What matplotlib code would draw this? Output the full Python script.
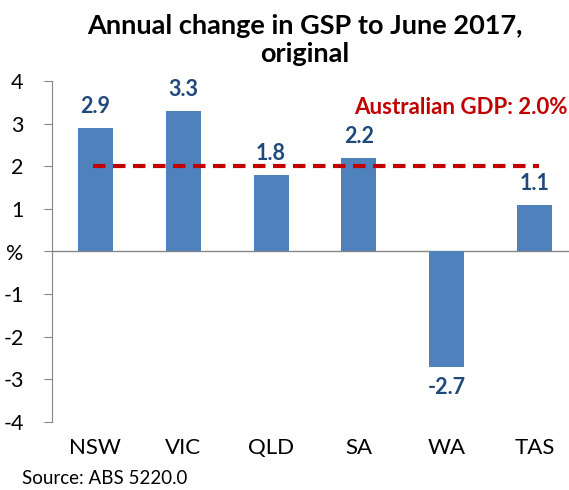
import matplotlib.pyplot as plt

plt.rcParams['font.family'] = ['Lato', 'DejaVu Sans']

states = ['NSW', 'VIC', 'QLD', 'SA', 'WA', 'TAS']
gsp_change = [2.9, 3.3, 1.8, 2.2, -2.7, 1.1]
gdp_change = 2.0
y_ticks = [-4, -3, -2, -1, 0, 1, 2, 3, 4]
y_labels = ['-4', '-3', '-2', '-1', '%', '1', '2', '3', '4']

fig = plt.figure(figsize=(5.69, 4.90), dpi=100)
ax = fig.add_axes([51.5 / 569, 68 / 490, 527 / 569, 341 / 490])

x = range(len(states))
ax.bar(x, gsp_change, width=0.4, color='#4F81BD', zorder=2)

# data labels
for i, v in zip(x, gsp_change):
    off = 0.25 if v > 0 else -0.25
    ax.text(i, v + off, f'{v:.1f}', ha='center', va='bottom' if v > 0 else 'top',
            fontsize=15.5, fontweight='bold', color='#1F497D')

# GDP reference line
ax.plot([-0.03, len(states) - 1 + 0.05], [gdp_change, gdp_change], color='#C00000',
        lw=3, ls=(0, (3, 1.8)), zorder=3)
fig.text(568 / 569, 1 - 108 / 490, f'Australian GDP: {gdp_change:.1f}%',
         ha='right', va='center', fontsize=16, fontweight='bold', color='#C00000')

ax.set_xlim(-0.5, 5.5)
ax.set_ylim(-4, 4)
ax.set_yticks(y_ticks)
ax.set_yticklabels(y_labels, fontsize=15.5)
ax.tick_params(axis='y', length=6, color='#868686', pad=14)
ax.set_xticks([])

for s in ['top', 'right', 'bottom']:
    ax.spines[s].set_visible(False)
ax.spines['left'].set_color('#868686')
ax.axhline(0, color='#868686', lw=1, zorder=1)

for i, s in zip(x, states):
    ax.text(i, -4.62, s, ha='center', va='center', fontsize=16)

fig.text(305 / 569, 1 - 40 / 490, 'Annual change in GSP to June 2017,\noriginal',
         ha='center', va='center', fontsize=19.5, fontweight='bold', linespacing=1.15)
fig.text(22 / 569, 1 - 478 / 490, 'Source: ABS 5220.0', ha='left', va='center', fontsize=13.5)

fig.savefig('out.png')
